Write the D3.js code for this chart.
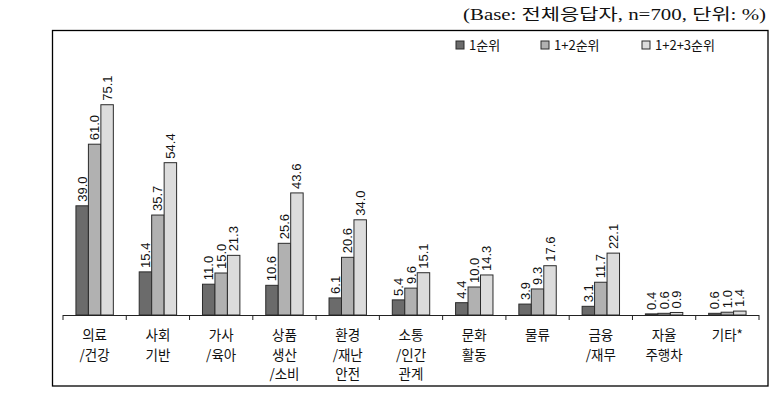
<!DOCTYPE html>
<html>
<head>
<meta charset="utf-8">
<script src="https://cdnjs.cloudflare.com/ajax/libs/d3/7.8.5/d3.min.js"></script>
<style>
  body { margin: 0; background: #fff; }
  svg { display: block; }
</style>
</head>
<body>
<div id="chart"></div>
<script>
// categories (multi-line labels) and series values
var categories = ['의료/건강', '사회기반', '가사/육아', '상품생산/소비', '환경/재난안전',
    '소통/인간관계', '문화활동', '물류', '금융/재무', '자율주행차', '기타*'];
var catLines = [['의료', '/건강'], ['사회', '기반'], ['가사', '/육아'], ['상품', '생산', '/소비'],
    ['환경', '/재난', '안전'], ['소통', '/인간', '관계'], ['문화', '활동'], ['물류'],
    ['금융', '/재무'], ['자율', '주행차'], ['기타*']];
var seriesNames = ['1순위', '1+2순위', '1+2+3순위'];
var rank1 = [39.0, 15.4, 11.0, 10.6, 6.1, 5.4, 4.4, 3.9, 3.1, 0.4, 0.6];
var rank12 = [61.0, 35.7, 15.0, 25.6, 20.6, 9.6, 10.0, 9.3, 11.7, 0.6, 1.0];
var rank123 = [75.1, 54.4, 21.3, 43.6, 34.0, 15.1, 14.3, 17.6, 22.1, 0.9, 1.4];
var seriesColors = ['#6b6b6b', '#b1b1b1', '#dcdcdc'];

var width = 777, height = 407;
var svg = d3.select('#chart').append('svg')
    .attr('width', width)
    .attr('height', height);

// header note
svg.append('text')
    .attr('x', 766)
    .attr('y', 20)
    .attr('text-anchor', 'end')
    .style('font-family', '"Liberation Serif", "DejaVu Serif", "Noto Sans CJK KR", serif')
    .style('font-size', '16px')
    .style('fill', '#111')
    .attr('textLength', 303)
    .attr('lengthAdjust', 'spacingAndGlyphs')
    .text('(Base: 전체응답자, n=700, 단위: %)');

// outer frame
svg.append('rect')
    .attr('x', 52.5)
    .attr('y', 30.5)
    .attr('width', 715.5)
    .attr('height', 355.5)
    .style('fill', 'none')
    .style('stroke', '#000')
    .style('stroke-width', 1.3);

var x = d3.scaleBand()
    .domain(categories)
    .range([63, 759])
    .padding(0);
var bw = x.bandwidth();
var xs = d3.scaleBand()
    .domain(seriesNames)
    .range([bw / 2 - 18.7, bw / 2 + 18.7]);
var y = d3.scaleLinear()
    .domain([0, 100])
    .range([315, 35]);

var table = categories.map(function (c, i) {
    return { cat: c, lines: catLines[i], vals: [rank1[i], rank12[i], rank123[i]] };
});

var groups = svg.selectAll('.grp')
    .data(table)
    .enter()
    .append('g')
    .attr('class', 'grp')
    .attr('transform', function (d) { return 'translate(' + [x(d.cat), 0] + ')'; });

groups.selectAll('rect')
    .data(function (d) { return d.vals.map(function (v, k) { return { s: seriesNames[k], v: v, k: k }; }); })
    .enter()
    .append('rect')
    .attr('x', function (d) { return xs(d.s); })
    .attr('y', function (d) { return y(d.v); })
    .attr('width', xs.bandwidth())
    .attr('height', function (d) { return y(0) - y(d.v); })
    .style('fill', function (d) { return seriesColors[d.k]; })
    .style('stroke', '#2b2b2b')
    .style('stroke-width', 1);

groups.selectAll('.val')
    .data(function (d) { return d.vals.map(function (v, k) { return { s: seriesNames[k], v: v }; }); })
    .enter()
    .append('text')
    .attr('class', 'val')
    .attr('transform', function (d) {
        return 'translate(' + [xs(d.s) + xs.bandwidth() / 2 + 4.5, y(d.v) - 4] + ') rotate(-90)';
    })
    .style('font-family', '"Liberation Sans", Arial, sans-serif')
    .style('font-size', '13px')
    .style('fill', '#111')
    .text(function (d) { return d.v.toFixed(1); });

// x axis line and boundary ticks
var axisG = svg.append('g');
axisG.append('line')
    .attr('x1', x.range()[0])
    .attr('x2', x.range()[1])
    .attr('y1', y(0) + 0.5)
    .attr('y2', y(0) + 0.5)
    .style('stroke', '#222')
    .style('stroke-width', 1);
var tickPos = categories.map(function (c) { return x(c); }).concat([x.range()[1]]);
axisG.selectAll('.tk')
    .data(tickPos)
    .enter()
    .append('line')
    .attr('x1', function (d) { return d; })
    .attr('x2', function (d) { return d; })
    .attr('y1', y(0))
    .attr('y2', y(0) + 5)
    .style('stroke', '#222');

// category labels
groups.append('text')
    .attr('text-anchor', 'middle')
    .style('font-family', '"Noto Sans CJK KR", sans-serif')
    .style('font-size', '13.5px')
    .style('fill', '#111')
    .selectAll('tspan')
    .data(function (d) { return d.lines; })
    .enter()
    .append('tspan')
    .attr('x', bw / 2)
    .attr('y', function (d, i) { return 340 + i * 19.5; })
    .text(function (d) { return d; });

// legend
var legendX = [456, 541, 642];
var legend = svg.selectAll('.leg')
    .data(seriesNames)
    .enter()
    .append('g')
    .attr('class', 'leg')
    .attr('transform', function (d, i) { return 'translate(' + [legendX[i], 41] + ')'; });
legend.append('rect')
    .attr('width', 8)
    .attr('height', 8)
    .style('fill', function (d, i) { return seriesColors[i]; })
    .style('stroke', '#2b2b2b')
    .style('stroke-width', 1);
legend.append('text')
    .attr('x', 13)
    .attr('y', 9)
    .style('font-family', '"Noto Sans CJK KR", sans-serif')
    .style('font-size', '13px')
    .style('fill', '#111')
    .text(function (d) { return d; });
</script>
</body>
</html>
